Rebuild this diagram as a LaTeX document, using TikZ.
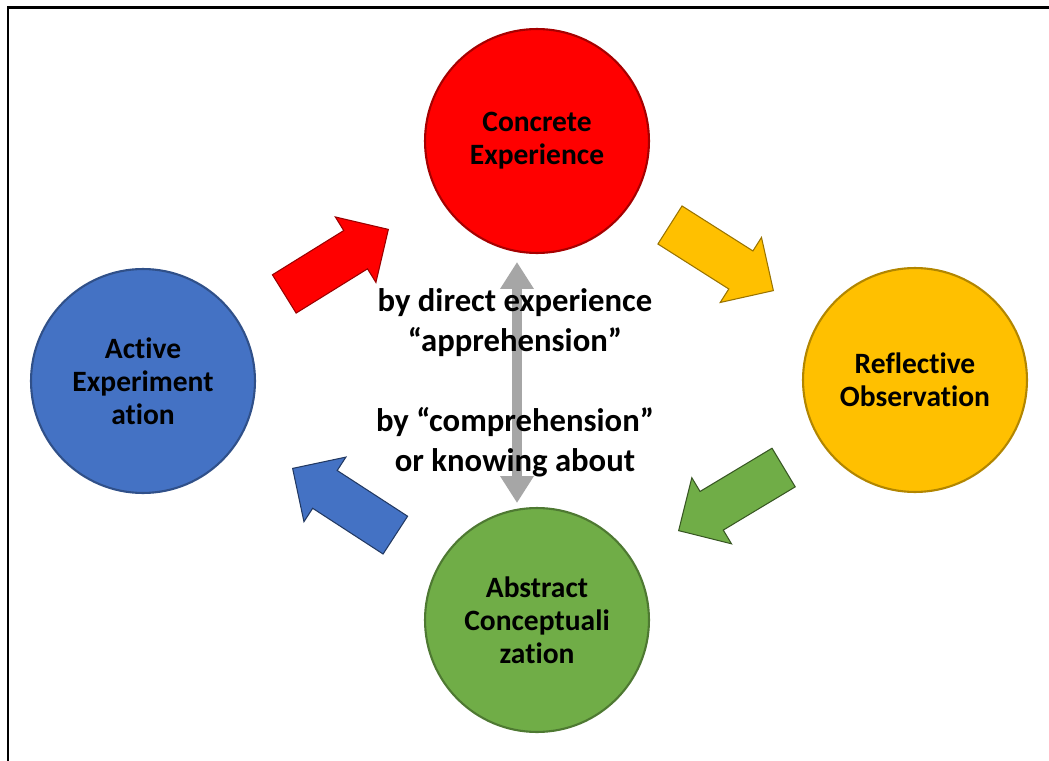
\documentclass[tikz,border=0pt]{standalone}
\usepackage{fontspec}
\setmainfont{Carlito}[Ligatures=NoCommon]
\usetikzlibrary{shapes.arrows,arrows.meta}
\definecolor{cered}{HTML}{FF0000}
\definecolor{rogold}{HTML}{FFC000}
\definecolor{acgreen}{HTML}{70AD47}
\definecolor{aeblue}{HTML}{4472C4}
\definecolor{axisgray}{HTML}{A6A6A6}
\begin{document}
\begin{tikzpicture}[x=0.02cm,y=-0.02cm,
	stage/.style={circle,minimum size=4.48cm,inner sep=0pt,line width=1.2pt,align=center,
		font=\bfseries\fontsize{16.8}{18.9}\selectfont},
	turn/.style={single arrow,anchor=tip,minimum height=2.45cm,inner xsep=0pt,inner ysep=0.44cm,
		single arrow head extend=0.32cm,line width=0.6pt},
	gloss/.style={align=center,font=\bfseries\fontsize{18.6}{22.7}\selectfont}]
	\useasboundingbox (0,0) rectangle (1049,761);
	% frame
	\draw[line width=1.7pt] (8,761)--(8,7.5)--(1049,7.5);
	% the four stages
	\node[stage,fill=cered,draw=cered!65!black] (ce) at (537,141) {Concrete\\Experience};
	\node[stage,fill=rogold,draw=rogold!70!black] (ro) at (915,380) {Reflective\\Observation};
	\node[stage,fill=acgreen,draw=acgreen!70!black] (ac) at (537,620) {Abstract\\Conceptuali\\zation};
	\node[stage,fill=aeblue,draw=aeblue!70!black] (ae) at (143,381) {Active\\Experiment\\ation};
	% block arrows round the cycle
	\node[turn,fill=cered,draw=cered!60!black,rotate=31.8] (ae2ce) at (389,229) {};
	\node[turn,fill=rogold,draw=rogold!60!black,rotate=-32.4] (ce2ro) at (774,291) {};
	\node[turn,fill=acgreen,draw=acgreen!50!black,rotate=211] (ro2ac) at (678,531) {};
	\node[turn,fill=aeblue,draw=aeblue!50!black,rotate=147] (ac2ae) at (292,468) {};
	% vertical axis
	\coordinate (axtop) at (517,262);
	\coordinate (axbot) at (517,503);
	\draw[axisgray,line width=0.2cm,{Triangle[width=0.64cm,length=0.54cm]}-{Triangle[width=0.64cm,length=0.54cm]}] (axtop)--(axbot);
	\node[gloss] (appr) at (515,323) {by direct experience\\“apprehension”};
	\node[gloss] (comp) at (515,442) {by “comprehension”\\or knowing about};
\end{tikzpicture}
\end{document}
